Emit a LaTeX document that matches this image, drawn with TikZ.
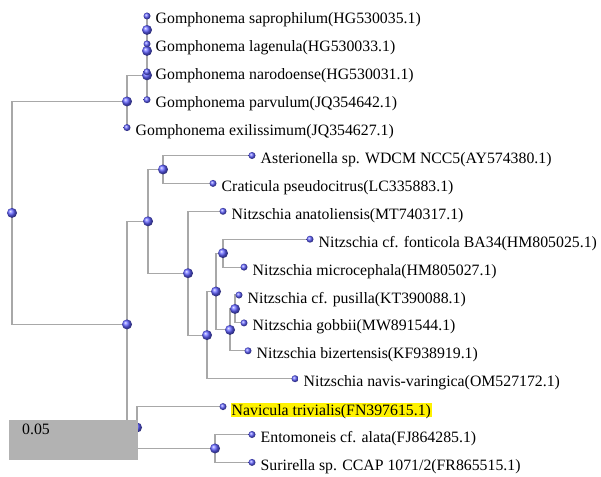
\documentclass[tikz,border=0pt]{standalone}
\usepackage{fontspec}
\setmainfont{Liberation Serif}
\usetikzlibrary{backgrounds}
\definecolor{dotblue}{RGB}{95,95,255}
\definecolor{linegray}{RGB}{168,168,168}
\definecolor{scalegray}{RGB}{178,178,178}
\tikzset{
  branch/.style={draw=linegray, line width=1.1pt},
  leafdot/.style={circle, inner sep=0pt, minimum size=7pt, shading=ball, ball color=dotblue},
  intdot/.style={circle, inner sep=0pt, minimum size=10pt, shading=ball, ball color=dotblue},
  lab/.style={anchor=base west, inner sep=0pt, font=\fontsize{15.8}{18}\selectfont},
  hilab/.style={lab, fill=yellow, inner xsep=1pt, text height=13pt, text depth=1pt},
}
\begin{document}
\begin{tikzpicture}[x=1pt, y=-1pt]
\useasboundingbox (0,0) rectangle (601,476);
% internal nodes
\node[intdot] (R) at (12,212.9) {};
\node[intdot] (G1) at (127,101.45) {};
\node[intdot] (G2) at (147,75.3) {};
\node[intdot] (G3) at (147,50.9) {};
\node[intdot] (G4) at (147,29.95) {};
\node[intdot] (B) at (127,324.4) {};
\node[intdot] (M) at (148,221.3) {};
\node[intdot] (A) at (163,169.45) {};
\node[intdot] (N) at (188,273.2) {};
\node[intdot] (P) at (207,335.1) {};
\node[intdot] (Q) at (216,291.5) {};
\node[intdot] (U) at (223,253.15) {};
\node[intdot] (V) at (230,329.9) {};
\node[intdot] (W) at (235,308.95) {};
\node[intdot] (S) at (137,427.5) {};
\node[intdot] (T) at (215,448.45) {};
% leaves
\node[leafdot] (L1) at (147,16) {};
\node[leafdot] (L2) at (147,43.9) {};
\node[leafdot] (L3) at (147,71.8) {};
\node[leafdot] (L4) at (147,99.7) {};
\node[leafdot] (L5) at (127,127.6) {};
\node[leafdot] (L6) at (252,155.5) {};
\node[leafdot] (L7) at (213,183.4) {};
\node[leafdot] (L8) at (223,211.3) {};
\node[leafdot] (L9) at (310,239.2) {};
\node[leafdot] (L10) at (244,267.1) {};
\node[leafdot] (L11) at (239,295) {};
\node[leafdot] (L12) at (244,322.9) {};
\node[leafdot] (L13) at (248,350.8) {};
\node[leafdot] (L14) at (295,378.7) {};
\node[leafdot] (L15) at (223,406.6) {};
\node[leafdot] (L16) at (252,434.5) {};
\node[leafdot] (L17) at (252,462.4) {};
% labels
\tikzset{labpos/.style={xshift=8.5pt,yshift=-8pt}}
\node[lab] (T1) at ([labpos]L1.center) {Gomphonema saprophilum(HG530035.1)};
\node[lab] (T2) at ([labpos]L2.center) {Gomphonema lagenula(HG530033.1)};
\node[lab] (T3) at ([labpos]L3.center) {Gomphonema narodoense(HG530031.1)};
\node[lab] (T4) at ([labpos]L4.center) {Gomphonema parvulum(JQ354642.1)};
\node[lab] (T5) at ([labpos]L5.center) {Gomphonema exilissimum(JQ354627.1)};
\node[lab] (T6) at ([labpos]L6.center) {Asterionella sp. WDCM NCC5(AY574380.1)};
\node[lab] (T7) at ([labpos]L7.center) {Craticula pseudocitrus(LC335883.1)};
\node[lab] (T8) at ([labpos]L8.center) {Nitzschia anatoliensis(MT740317.1)};
\node[lab] (T9) at ([labpos]L9.center) {Nitzschia cf. fonticola BA34(HM805025.1)};
\node[lab] (T10) at ([labpos]L10.center) {Nitzschia microcephala(HM805027.1)};
\node[lab] (T11) at ([labpos]L11.center) {Nitzschia cf. pusilla(KT390088.1)};
\node[lab] (T12) at ([labpos]L12.center) {Nitzschia gobbii(MW891544.1)};
\node[lab] (T13) at ([labpos]L13.center) {Nitzschia bizertensis(KF938919.1)};
\node[lab] (T14) at ([labpos]L14.center) {Nitzschia navis-varingica(OM527172.1)};
\node[hilab] (T15) at ([xshift=7.5pt,yshift=-9pt]L15.center) {Navicula trivialis(FN397615.1)};
\node[lab] (T16) at ([labpos]L16.center) {Entomoneis cf. alata(FJ864285.1)};
\node[lab] (T17) at ([labpos]L17.center) {Surirella sp. CCAP 1071/2(FR865515.1)};
% branches
\begin{scope}[on background layer]
\foreach \p/\c in {R/G1, R/B, G1/G2, G1/L5, G2/G3, G2/L4, G3/G4, G3/L3, G4/L1, G4/L2,
  B/M, B/S, M/A, M/N, A/L6, A/L7, N/L8, N/P, P/Q, P/L14, Q/U, Q/V, U/L9, U/L10,
  V/W, V/L13, W/L11, W/L12, S/L15, S/T, T/L16, T/L17}
  \draw[branch] (\p.center) |- (\c.center);
\end{scope}
% scale box
\node[draw=none, fill=scalegray, minimum width=129pt, minimum height=40pt, inner sep=0pt, anchor=north west] (SB) at (9,420) {};
\node[lab] (SL) at (22,434) {0.05};
\end{tikzpicture}
\end{document}
